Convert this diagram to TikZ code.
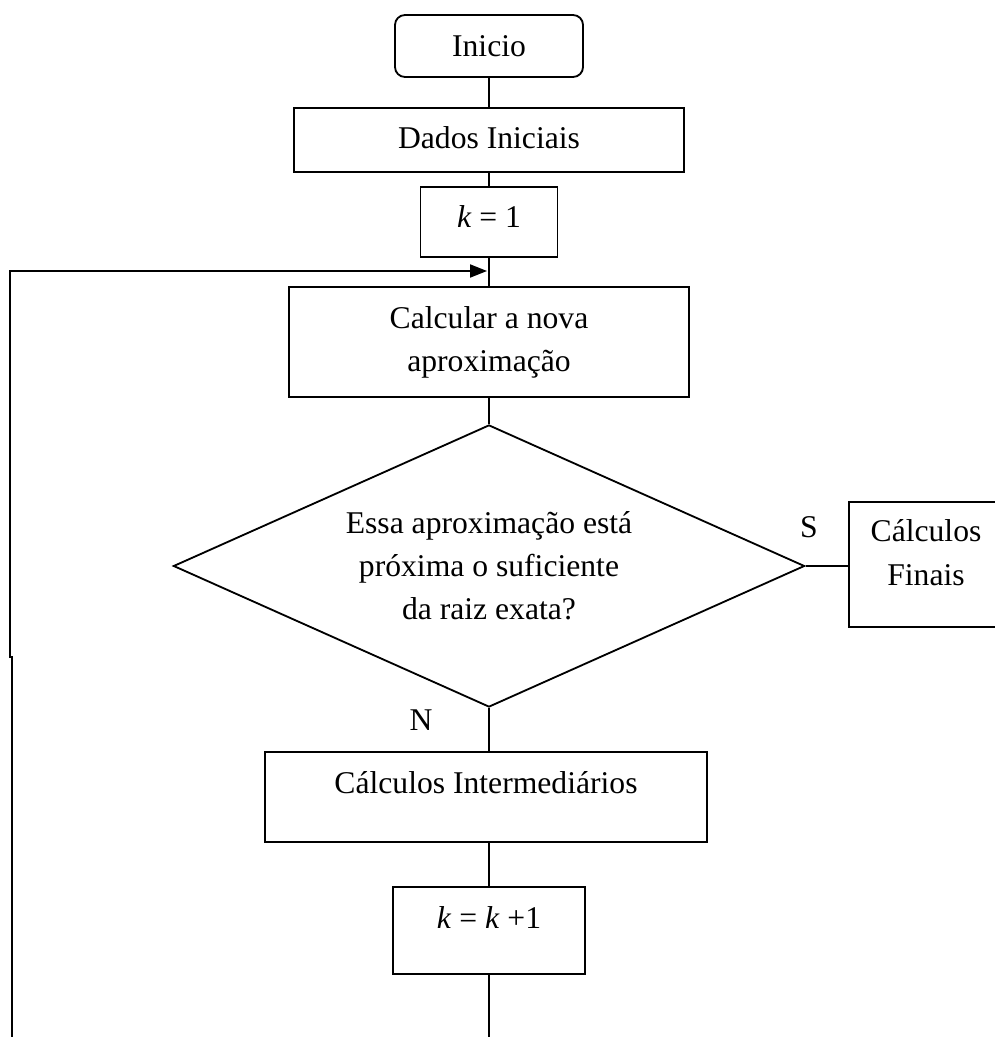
\documentclass[tikz,border=0pt]{standalone}
\usepackage{fontspec}
\setmainfont{Liberation Serif}
\usetikzlibrary{shapes.geometric,arrows.meta}

\begin{document}
\begin{tikzpicture}[x=0.025cm, y=-0.025cm, line width=1.3pt,
    every node/.style={font=\fontsize{22.5}{30.6}\selectfont},
    caixa/.style={draw, inner sep=0pt},
    rotulo/.style={anchor=base}]
    \useasboundingbox (0,0) rectangle (994,1037);

    \node[caixa, rounded corners=0.25cm, minimum width=4.7cm, text height=1.05cm, text depth=0.5cm](inicio) at (489,46){Inicio};
    \node[caixa, minimum width=9.75cm, text height=1cm, text depth=0.6cm](dados) at (489,140){Dados Iniciais};
    \node[caixa, minimum width=3.425cm, text height=1cm, text depth=0.75cm](k1) at (489,222){\textit{k} = 1};
    \node[caixa, minimum width=10cm, minimum height=2.75cm, align=center](calc) at (489,342){Calcular a nova\\aproxima\c{c}\~ao};
    \node[draw, diamond, shape aspect=2.24, minimum width=15.775cm, minimum height=7.05cm, inner sep=0pt, align=center](decisao) at (489,566){Essa aproxima\c{c}\~ao est\'a\\pr\'oxima o suficiente\\da raiz exata?};
    \node[caixa](finais) at (926,564.5){\parbox[c][3.125cm][t]{3.85cm}{\centering\rule{0pt}{1cm}C\'alculos\\Finais}};
    \node[caixa, minimum width=11.05cm, text height=1.025cm, text depth=1.225cm](inter) at (486,797){C\'alculos Intermedi\'arios};
    \node[caixa, minimum width=4.8cm, text height=1.025cm, text depth=1.15cm](k2) at (489,930.5){\textit{k} = \textit{k} +1};
    \node[rotulo](sim) at (809,537){S};
    \node[rotulo](nao) at (421,730){N};

    \coordinate (volta) at (487,271);
    \coordinate (base) at (12,1037);
    \coordinate (fim) at (489,1037);

    \draw (inicio.south) -- (inicio.south |- dados.north);
    \draw (dados.south) -- (k1.north);
    \draw (k1.south) -- (calc.north);
    \draw (calc.south) -- (decisao.north);
    \draw (decisao.east) -- (decisao.east -| finais.west);
    \draw (decisao.south) -- (decisao.south |- inter.north);
    \draw (decisao.south |- inter.south) -- (k2.north);
    \draw (k2.south) -- (fim);
    \draw[-{Triangle[length=0.425cm,width=0.325cm]}] (base) -- (12,657) -- (10,657) -- (10,271) -- (volta);
\end{tikzpicture}
\end{document}
